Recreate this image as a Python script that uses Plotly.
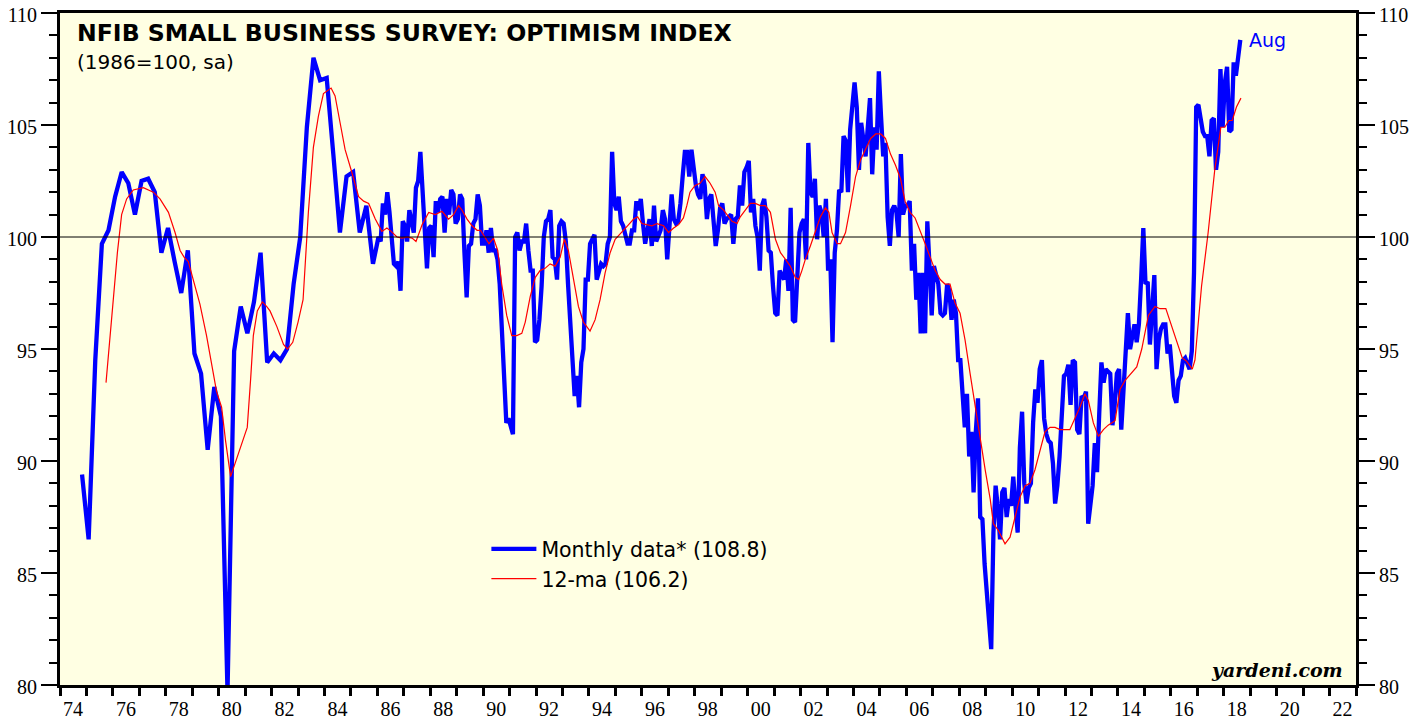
import numpy as np
import pandas as pd
import plotly.graph_objects as go

# ---------------- data ----------------
# Quarterly readings Nov-1974 .. Nov-1985 (Nov, Feb, May, Aug)
quarterly_start = "1974-11-01"
quarterly_end = "1985-11-01"
quarterly_values = [89.4, 86.5, 94.5, 99.7, 100.3, 101.8, 102.9, 102.4, 101.0, 102.5,
                    102.6, 102.0, 99.3, 100.4, 98.9, 97.5, 99.4, 94.8, 93.9, 90.5,
                    93.3, 92.0, 79.7, 94.9, 96.9, 95.7, 97.1, 99.3, 94.4, 94.8,
                    94.5, 95.0, 97.9, 100.0, 104.9, 108.0, 107.0, 107.1, 103.7, 100.2,
                    102.7, 102.9, 100.2, 101.4, 98.8]

# Monthly readings Jan-1986 .. Aug-2018
monthly_start = "1986-01-01"
monthly_end = "2018-08-01"
m1986 = [100.0, 99.8, 101.5, 101.0, 102.0, 101.1, 100.0, 98.8, 98.7, 98.9, 97.6, 100.7]
m1987 = [100.5, 99.8, 101.2, 100.6, 100.2, 102.2, 102.5, 103.8, 102.1, 101.1, 98.6, 100.4]
m1988 = [100.5, 99.1, 101.6, 101.1, 101.7, 101.8, 100.2, 101.7, 101.0, 102.1, 101.9, 100.6]
m1989 = [100.8, 101.9, 101.7, 99.3, 97.3, 99.6, 99.7, 100.6, 100.8, 101.9, 101.4, 99.7]
m1990 = [99.7, 100.3, 99.3, 100.4, 99.4, 99.4, 99.0, 97.9, 95.9, 93.2, 91.7, 91.9]
m1991 = [91.6, 91.2, 100.0, 100.2, 99.4, 99.8, 99.8, 100.6, 99.4, 98.5, 98.5, 95.3]
m1992 = [95.4, 96.3, 97.8, 100.0, 100.7, 100.8, 101.2, 99.1, 99.0, 98.1, 100.5, 100.7]
m1993 = [100.6, 99.8, 97.9, 96.0, 94.4, 92.9, 93.8, 92.4, 94.4, 95.0, 98.1, 98.1]
m1994 = [99.7, 99.9, 100.1, 98.1, 98.5, 98.8, 98.7, 98.8, 99.7, 100.0, 103.8, 101.5]
m1995 = [101.2, 101.8, 100.7, 100.5, 100.1, 99.7, 99.7, 100.3, 100.3, 101.6, 101.2, 101.7]
m1996 = [100.6, 99.7, 100.3, 100.8, 99.6, 101.4, 99.8, 100.0, 100.3, 101.2, 100.8, 99.0]
m1997 = [100.5, 101.9, 100.8, 100.6, 100.7, 101.5, 102.7, 103.8, 103.8, 102.7, 103.9, 103.0]
m1998 = [102.3, 101.9, 101.7, 102.8, 102.3, 100.8, 101.7, 101.9, 100.8, 99.6, 100.3, 101.3]
m1999 = [101.5, 100.6, 100.8, 100.9, 101.0, 99.7, 100.8, 100.9, 102.3, 101.4, 102.9, 103.1]
m2000 = [103.4, 101.1, 101.7, 100.5, 100.0, 98.5, 101.4, 101.7, 100.9, 99.4, 99.3, 97.8]
m2001 = [96.6, 96.5, 98.5, 98.3, 98.1, 99.0, 97.6, 101.3, 96.3, 96.2, 98.3, 100.2]
m2002 = [100.6, 100.8, 99.0, 104.2, 102.0, 101.8, 102.6, 99.9, 101.4, 101.1, 100.0, 101.7]
m2003 = [98.5, 99.0, 95.3, 99.3, 100.3, 102.1, 102.0, 104.5, 104.3, 102.0, 104.8, 105.8]
m2004 = [106.9, 105.8, 103.0, 105.1, 104.2, 103.6, 104.9, 106.2, 102.8, 104.9, 103.9, 107.4]
m2005 = [105.4, 103.6, 104.2, 100.9, 99.6, 101.2, 101.4, 101.1, 100.0, 103.7, 101.0, 101.4]
m2006 = [101.4, 101.6, 98.5, 99.7, 97.2, 98.4, 95.7, 98.4, 95.7, 100.7, 98.7, 96.5]
m2007 = [98.7, 98.2, 97.9, 96.6, 96.5, 96.6, 97.9, 97.6, 96.3, 97.2, 96.6, 94.5]
m2008 = [94.5, 93.0, 91.5, 93.0, 90.2, 91.3, 88.6, 91.3, 92.8, 87.5, 87.4, 85.4]
m2009 = [84.1, 82.6, 81.6, 86.8, 88.9, 87.9, 86.5, 88.6, 88.8, 87.5, 88.3, 88.0]
m2010 = [89.3, 88.0, 86.8, 90.6, 92.2, 89.0, 88.1, 88.8, 89.0, 91.7, 93.2, 92.6]
m2011 = [94.1, 94.5, 91.9, 91.2, 90.9, 90.8, 89.9, 88.1, 88.9, 90.2, 92.0, 93.8]
m2012 = [93.9, 94.3, 92.5, 94.5, 94.4, 91.4, 91.2, 92.9, 92.8, 93.1, 87.2, 88.0]
m2013 = [88.9, 90.8, 89.5, 92.1, 94.4, 93.5, 94.1, 94.0, 93.9, 91.6, 92.5, 93.9]
m2014 = [94.1, 91.4, 93.4, 95.2, 96.6, 95.0, 95.7, 96.1, 95.3, 96.1, 98.1, 100.4]
m2015 = [97.9, 98.0, 95.2, 96.9, 98.3, 94.1, 95.4, 95.9, 96.1, 96.1, 94.8, 95.2]
m2016 = [93.9, 92.9, 92.6, 93.6, 93.8, 94.5, 94.6, 94.4, 94.1, 94.9, 98.4, 105.8]
m2017 = [105.9, 105.3, 104.7, 104.5, 104.5, 103.6, 105.2, 105.3, 103.0, 103.8, 107.5, 104.9]
m2018 = [106.9, 107.6, 104.7, 104.8, 107.8, 107.2, 107.9, 108.8]

# 12-month moving average (decimal year, value)
ma_years = [1975.74, 1975.89, 1976.02, 1976.17, 1976.33, 1976.52, 1976.77, 1977.15, 1977.53, 1977.78,
            1978.10, 1978.35, 1978.54, 1978.69, 1978.85, 1979.04, 1979.29, 1979.54, 1979.80, 1979.92,
            1980.11, 1980.26, 1980.45, 1980.62, 1980.87, 1981.08, 1981.21, 1981.31, 1981.46, 1981.65,
            1981.81, 1981.94, 1982.20, 1982.45, 1982.60, 1982.80, 1983.00, 1983.19, 1983.39, 1983.58,
            1983.77, 1983.96, 1984.25, 1984.40, 1984.59, 1984.78, 1985.03, 1985.29, 1985.48, 1985.67,
            1985.92, 1986.17, 1986.36, 1986.52, 1986.74, 1986.93, 1987.12, 1987.31, 1987.46, 1987.69,
            1987.94, 1988.19, 1988.44, 1988.69, 1988.88, 1989.07, 1989.20, 1989.39, 1989.58, 1989.77,
            1989.90, 1990.07, 1990.22, 1990.39, 1990.55, 1990.70, 1990.89, 1991.08, 1991.27, 1991.46,
            1991.59, 1991.78, 1991.97, 1992.15, 1992.34, 1992.53, 1992.72, 1992.91, 1993.07, 1993.22,
            1993.41, 1993.60, 1993.79, 1994.04, 1994.23, 1994.42, 1994.61, 1994.80, 1994.99, 1995.24,
            1995.50, 1995.69, 1995.84, 1996.00, 1996.19, 1996.38, 1996.57, 1996.82, 1997.01, 1997.20,
            1997.39, 1997.57, 1997.70, 1997.82, 1998.01, 1998.20, 1998.39, 1998.58, 1998.77, 1998.90,
            1999.09, 1999.28, 1999.41, 1999.60, 1999.72, 1999.91, 2000.10, 2000.29, 2000.48, 2000.67,
            2000.86, 2001.05, 2001.24, 2001.43, 2001.61, 2001.80, 2001.93, 2002.05, 2002.18, 2002.37,
            2002.56, 2002.75, 2002.94, 2003.07, 2003.19, 2003.38, 2003.51, 2003.70, 2003.89, 2004.08,
            2004.27, 2004.46, 2004.65, 2004.84, 2005.03, 2005.21, 2005.40, 2005.59, 2005.78, 2005.95,
            2006.14, 2006.33, 2006.52, 2006.71, 2006.90, 2007.09, 2007.28, 2007.46, 2007.65, 2007.84,
            2008.03, 2008.22, 2008.41, 2008.60, 2008.79, 2008.98, 2009.17, 2009.29, 2009.48, 2009.73,
            2009.92, 2010.11, 2010.30, 2010.49, 2010.67, 2010.86, 2011.05, 2011.24, 2011.43, 2011.62,
            2011.81, 2011.99, 2012.18, 2012.37, 2012.56, 2012.75, 2012.88, 2013.07, 2013.26, 2013.45,
            2013.63, 2013.89, 2014.08, 2014.27, 2014.71, 2014.90, 2015.15, 2015.40, 2015.59, 2015.81,
            2016.03, 2016.22, 2016.43, 2016.60, 2016.81, 2016.91, 2017.16, 2017.41, 2017.66, 2017.89,
            2018.04, 2018.19, 2018.32, 2018.48, 2018.65]
ma_values = [93.5, 95.6, 97.6, 99.3, 101.0, 101.7, 102.1, 102.2, 102.0, 101.7,
             101.1, 100.2, 99.4, 99.1, 98.9, 98.1, 97.0, 95.6, 93.8, 93.1,
             92.4, 90.9, 89.3, 89.9, 90.7, 91.5, 93.7, 95.6, 96.7, 97.1,
             96.9, 96.7, 96.0, 95.2, 95.0, 95.3, 96.2, 97.2, 101.1, 104.0,
             105.4, 106.4, 106.65, 106.3, 105.1, 103.9, 102.9, 101.8, 101.6, 101.5,
             100.8, 100.25, 100.4, 100.25, 100.0, 99.95, 100.0, 99.95, 99.8, 100.55,
             101.1, 101.0, 101.15, 100.8, 101.0, 101.4, 101.2, 100.8, 100.5, 100.3,
             100.3, 100.0, 99.7, 99.95, 99.4, 97.9, 96.5, 95.6, 95.6, 95.7,
             96.2, 97.35, 98.2, 98.5, 98.6, 98.8, 98.7, 99.1, 99.9, 99.4,
             98.2, 96.9, 96.2, 95.8, 96.3, 97.2, 98.4, 99.3, 99.9, 100.2,
             100.55, 100.8, 100.9, 100.6, 100.55, 100.5, 100.6, 100.5, 100.2, 100.4,
             100.55, 100.85, 101.4, 102.0, 102.3, 102.4, 102.7, 102.4, 102.0, 101.4,
             101.2, 100.9, 100.7, 100.6, 100.9, 101.2, 101.5, 101.5, 101.4, 101.4,
             101.1, 99.9, 99.3, 99.0, 98.7, 98.2, 98.1, 98.5, 99.0, 99.6,
             100.3, 100.9, 101.3, 101.1, 100.2, 99.7, 99.7, 100.2, 101.4, 102.7,
             103.45, 103.9, 104.4, 104.6, 104.6, 104.4, 103.7, 103.2, 102.6, 101.6,
             101.1, 100.85, 100.3, 99.7, 99.1, 98.5, 98.1, 97.9, 97.9, 97.05,
             96.6, 95.4, 93.9, 92.4, 91.1, 89.6, 88.3, 87.2, 86.9, 86.3,
             86.6, 87.5, 88.4, 88.9, 89.0, 89.6, 90.5, 91.3, 91.5, 91.5,
             91.4, 91.4, 91.4, 91.9, 92.4, 93.0, 92.7, 91.7, 91.1, 91.4,
             91.6, 91.8, 93.2, 93.6, 94.2, 95.0, 96.5, 96.9, 96.8, 96.8,
             96.0, 95.3, 94.6, 94.45, 94.1, 94.5, 97.8, 100.2, 103.0, 104.9,
             104.9, 105.2, 105.2, 105.8, 106.2]

# Axis labels
y_range = [80, 110]
y_tick_values = [80, 85, 90, 95, 100, 105, 110]
x_first_year = 1974
x_last_year = 2023
latest_month_label = "Aug"
monthly_label = "Monthly data* (108.8)"
ma_label = "12-ma (106.2)"

# ---------------- build x positions ----------------
q_dates = pd.date_range(quarterly_start, quarterly_end, freq="3MS")
m_dates = pd.date_range(monthly_start, monthly_end, freq="MS")
q_x = q_dates.year + (q_dates.month - 1) / 12.0
m_x = m_dates.year + (m_dates.month - 0.5) / 12.0
monthly_values = (m1986 + m1987 + m1988 + m1989 + m1990 + m1991 + m1992 + m1993 + m1994 +
                  m1995 + m1996 + m1997 + m1998 + m1999 + m2000 + m2001 + m2002 + m2003 +
                  m2004 + m2005 + m2006 + m2007 + m2008 + m2009 + m2010 + m2011 + m2012 +
                  m2013 + m2014 + m2015 + m2016 + m2017 + m2018)
assert len(monthly_values) == len(m_dates)
assert len(quarterly_values) == len(q_dates)
assert len(ma_years) == len(ma_values)

blue_x = np.concatenate([np.asarray(q_x, float), np.asarray(m_x, float)])
blue_y = list(quarterly_values) + list(monthly_values)

years = list(range(x_first_year, x_last_year + 1))
year_text = [f"{y % 100:02d}" if (y % 2 == 0 and y < x_last_year) else "" for y in years]

SERIF = "Liberation Serif, Times New Roman, serif"
WIDE_SANS = "DejaVu Sans, Verdana, sans-serif"
WIDE_SERIF = "DejaVu Serif, Georgia, serif"

fig = go.Figure()
fig.add_trace(go.Scatter(x=blue_x, y=blue_y, mode="lines", name=monthly_label,
                         line=dict(color="#0000FF", width=4.3)))
fig.add_trace(go.Scatter(x=ma_years, y=ma_values, mode="lines", name=ma_label,
                         line=dict(color="#FF0000", width=1.2)))
# invisible trace to anchor the right-hand axis
fig.add_trace(go.Scatter(x=[x_first_year, x_last_year], y=y_range, yaxis="y2", mode="lines",
                         line=dict(width=0), hoverinfo="skip", showlegend=False))

fig.add_shape(type="line", xref="paper", yref="y", x0=0, x1=1, y0=100, y1=100,
              line=dict(color="black", width=1))

axis_common = dict(range=y_range, tickmode="array", tickvals=y_tick_values,
                   ticks="outside", ticklen=16, tickwidth=1.5, tickcolor="black",
                   showgrid=False, zeroline=False, showline=True, linecolor="black",
                   linewidth=3, automargin=False, ticklabeloverflow="allow",
                   ticklabelshift=2,
                   tickfont=dict(family=SERIF, size=20, color="black"),
                   minor=dict(tickmode="linear", dtick=1, tick0=80, ticks="outside",
                              ticklen=8, tickwidth=1.5, tickcolor="black", showgrid=False))

# The page body has an 8px margin, so the figure is 8px smaller on each axis
fig.update_layout(
    template="none",
    width=1420, height=711,
    margin=dict(l=52, r=72, t=5, b=34, autoexpand=False),
    paper_bgcolor="white",
    plot_bgcolor="#FFFFE3",
    showlegend=True,
    legend=dict(x=0.329, y=0.232, xanchor="left", yanchor="top",
                bgcolor="rgba(0,0,0,0)", borderwidth=0,
                font=dict(family=WIDE_SANS, size=20.5, color="black"),
                itemwidth=45, tracegroupgap=0),
    xaxis=dict(range=[x_first_year, x_last_year], tickmode="array", tickvals=years,
               ticktext=year_text, ticks="outside", ticklen=8, tickwidth=2.5,
               tickcolor="black", ticklabelshift=13, ticklabelstandoff=-4,
               showgrid=False, zeroline=False,
               showline=True, linecolor="black", linewidth=3, mirror=True,
               automargin=False, ticklabeloverflow="allow",
               tickfont=dict(family=SERIF, size=20, color="black")),
    yaxis=dict(side="left", **axis_common),
    yaxis2=dict(side="right", overlaying="y", **axis_common),
)

fig.add_annotation(xref="paper", yref="paper", x=0.0115, y=0.970, xanchor="left",
                   yanchor="middle", showarrow=False,
                   text="<b>NFIB SMALL BUSINESS SURVEY: OPTIMISM INDEX</b>",
                   font=dict(family=WIDE_SANS, size=23.6, color="black"))
fig.add_annotation(xref="paper", yref="paper", x=0.0115, y=0.927, xanchor="left",
                   yanchor="middle", showarrow=False, text="(1986=100, sa)",
                   font=dict(family=WIDE_SANS, size=20, color="black"))
fig.add_annotation(xref="x", yref="y", x=blue_x[-1] + 0.25, y=blue_y[-1],
                   xanchor="left", yanchor="middle", showarrow=False,
                   text=latest_month_label, font=dict(family=WIDE_SANS, size=19, color="#0000FF"))
fig.add_annotation(xref="paper", yref="paper", x=0.9915, y=0.022, xanchor="right",
                   yanchor="middle", showarrow=False, text="<b><i>yardeni.com</i></b>",
                   font=dict(family=WIDE_SERIF, size=19, color="black"))

fig.write_html("out.html")
